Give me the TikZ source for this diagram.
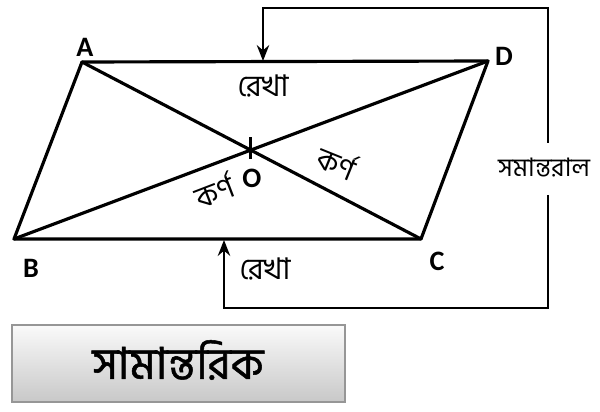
\documentclass[tikz,border=0pt]{standalone}
\usepackage{fontspec}
\newfontfamily\bn[Script=Bengali]{Hind Siliguri}
\newfontfamily\bnt[Script=Bengali,FakeBold=1.2]{Hind Siliguri}
\newfontfamily\lat{Carlito}
\usetikzlibrary{arrows.meta,calc}
\definecolor{btntop}{RGB}{250,250,250}
\definecolor{btnbot}{RGB}{200,200,200}
\definecolor{btnedge}{RGB}{150,150,150}
\begin{document}
\begin{tikzpicture}[x=0.02cm,y=-0.02cm,
  edge/.style={line width=1.8pt,line join=round,line cap=round},
  link/.style={line width=1.7pt,line join=miter},
  arr/.style={link,-{Stealth[length=9pt,width=7pt]}},
  vlabel/.style={font=\lat\bfseries\fontsize{16}{16}\selectfont,inner sep=0pt},
  bnlabel/.style={font=\bn\fontsize{17}{17}\selectfont,inner sep=0pt},
  btnbox/.style={draw=btnedge,line width=0.9pt,top color=btntop,bottom color=btnbot,
    minimum width=6.66cm,minimum height=1.54cm,inner sep=0pt}]
\useasboundingbox (0,0) rectangle (600,412);
% vertices
\coordinate (A) at (82,62);
\coordinate (B) at (14,239);
\coordinate (C) at (421,239);
\coordinate (D) at (488,61);
\coordinate (O) at (intersection of A--C and B--D);
% parallelogram and diagonals
\draw[edge] (A) -- (D) -- (C) -- (B) -- cycle;
\draw[edge] (A) -- (C);
\draw[edge] (B) -- (D);
\draw[line width=1.5pt] ($(O)+(0,-13)$) -- ($(O)+(0,9)$);
% vertex labels
\node[vlabel] (lA) at (85,47) {A};
\node[vlabel] (lB) at (31,268) {B};
\node[vlabel] (lC) at (437,261) {C};
\node[vlabel] (lD) at (504,56) {D};
\node[vlabel] (lO) at (252,178) {O};
% text labels
\node[bnlabel] (r1) at (263,86) {রেখা};
\node[bnlabel] (r2) at (265,269) {রেখা};
\node[bnlabel,rotate=21] (k1) at (214,190) {কর্ণ};
\node[bnlabel,rotate=-22] (k2) at (337,162) {কর্ণ};
\node[font=\bn\fontsize{14.5}{14.5}\selectfont,inner sep=0pt] (par) at (544,168) {সমান্তরাল};
% bracket connectors
\coordinate (p1) at (548,143);
\coordinate (p2) at (548,195);
\coordinate (tc) at (548,8);
\coordinate (bc) at (548,308);
\coordinate (tA) at (263,61);
\coordinate (bB) at (224,240);
\draw[arr] (p1) -- (tc) -| (tA);
\draw[arr] (p2) -- (bc) -| (bB);
% button
\node[btnbox] (btn) at (178.5,363.5) {};
\node[font=\bnt\fontsize{25}{25}\selectfont,inner sep=0pt] (title) at (178,360) {সামান্তরিক};
\end{tikzpicture}
\end{document}
